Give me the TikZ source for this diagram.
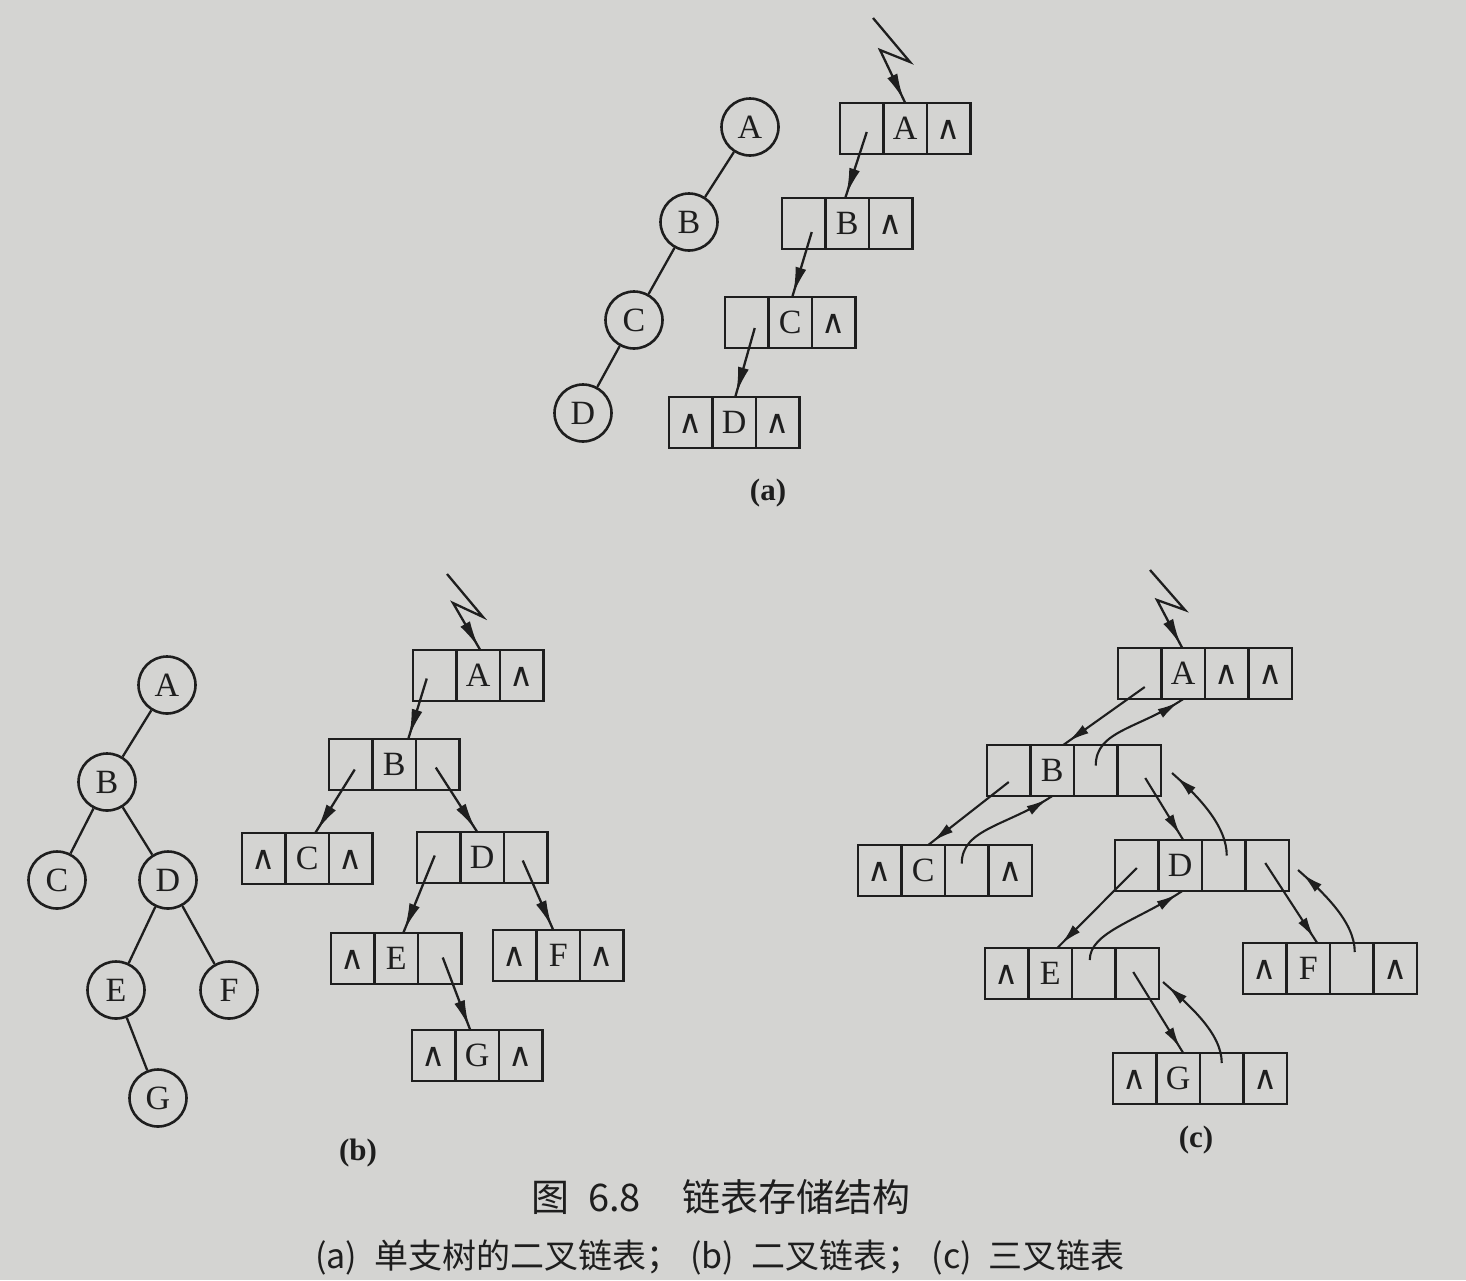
\documentclass[tikz,border=0pt]{standalone}
\usepackage{fontspec}
\usepackage{graphicx}
\setmainfont{Liberation Serif}
\newfontfamily\cjk{Noto Sans CJK SC}
\newfontfamily\symfont{DejaVu Sans}
\usetikzlibrary{arrows.meta,calc,decorations.markings}
\definecolor{ink}{RGB}{30,30,30}
\definecolor{paper}{RGB}{212,212,210}
\newcommand\NULLsym{{\symfont\fontsize{33}{33}\selectfont ∧}}
\newcommand\cellrow[3]{\foreach \cc [count=\ii] in {#3} {\node[cell, anchor=north west] (#1\ii) at ($(#2)+(43.5*\ii-43.5,0)$) {\cc};}}
\begin{document}
\begin{tikzpicture}[x=1pt,y=-1pt,
  ln/.style={draw=ink, line width=2.3pt},
  cell/.style={draw=ink, line width=2.8pt, rectangle, minimum width=43.5pt, minimum height=51pt,
    inner sep=0pt, outer sep=0pt, text height=22pt, text depth=0pt, text=ink,
    font=\fontsize{34}{34}\selectfont},
  tnode/.style={draw=ink, circle, line width=2.6pt, minimum size=57pt, inner sep=0pt, text=ink,
    text height=22pt, text depth=0pt, font=\fontsize{34}{34}\selectfont},
  ptr/.style={draw=ink, line width=2.3pt, line join=miter,
    decoration={markings, mark=at position -3pt with {\arrow[ink]{Latex[length=27pt,width=11pt]}}},
    postaction={decorate}},
  ptrc/.style={draw=ink, line width=2.1pt,
    decoration={markings, mark=at position -6pt with {\arrow[ink]{Latex[length=21pt,width=10pt]}}},
    postaction={decorate}},
  lbl/.style={text=ink, font=\bfseries\fontsize{31}{31}\selectfont},
]
\fill[paper] (0,0) rectangle (1466,1280);
\useasboundingbox (0,0) rectangle (1466,1280);

% ---------------- (a) ----------------
\node[tnode] (taA) at (750,127) {A};
\node[tnode] (taB) at (689,222) {B};
\node[tnode] (taC) at (634,320) {C};
\node[tnode] (taD) at (583,413) {D};
\draw[ln] (taA) -- (taB) (taB) -- (taC) (taC) -- (taD);

\cellrow{aA}{840,103}{\relax,A,\NULLsym}
\cellrow{aB}{782,198}{\relax,B,\NULLsym}
\cellrow{aC}{725,297}{\relax,C,\NULLsym}
\cellrow{aD}{669,397}{\NULLsym,D,\NULLsym}

\coordinate (az1) at (873,18);
\coordinate (az2) at (910,62);
\coordinate (az3) at (880,50);
\draw[ptr] (az1) -- (az2) -- (az3) -- (aA2.north);
\draw[ptr] ($(aA1.center)+(5,3.5)$) -- ($(aB2.north)+(-2,0)$);
\draw[ptr] ($(aB1.center)+(8,8.5)$) -- ($(aC2.north)+(2,0)$);
\draw[ptr] ($(aC1.center)+(8,5.5)$) -- ($(aD2.north)+(1,0)$);

\node[lbl] (capa) at (768,493) {(a)};

% ---------------- (b) ----------------
\node[tnode] (tbA) at (167,685) {A};
\node[tnode] (tbB) at (107,782) {B};
\node[tnode] (tbC) at (57,880) {C};
\node[tnode] (tbD) at (168,880) {D};
\node[tnode] (tbE) at (116,990) {E};
\node[tnode] (tbF) at (229,990) {F};
\node[tnode] (tbG) at (158,1098) {G};
\draw[ln] (tbA) -- (tbB) (tbB) -- (tbC) (tbB) -- (tbD) (tbD) -- (tbE) (tbD) -- (tbF) (tbE) -- (tbG);

\cellrow{bA}{413,650}{\relax,A,\NULLsym}
\cellrow{bB}{329,739}{\relax,B,\relax}
\cellrow{bC}{242,833}{\NULLsym,C,\NULLsym}
\cellrow{bD}{417,832}{\relax,D,\relax}
\cellrow{bE}{331,933}{\NULLsym,E,\relax}
\cellrow{bF}{493,930}{\NULLsym,F,\NULLsym}
\cellrow{bG}{412,1030}{\NULLsym,G,\NULLsym}

\coordinate (bz1) at (447,574);
\coordinate (bz2) at (483,617);
\coordinate (bz3) at (453,603);
\draw[ptr] (bz1) -- (bz2) -- (bz3) -- ($(bA2.north)+(2,0)$);
\draw[ptr] ($(bA1.center)+(-8,3)$) -- ($(bB2.north)+(14,0)$);
\draw[ptr] ($(bB1.center)+(4,5)$) -- ($(bC2.north)+(8,0)$);
\draw[ptr] ($(bB3.center)+(-2,3)$) -- ($(bD2.north)+(-5,0)$);
\draw[ptr] ($(bD1.center)+(-4,-2)$) -- ($(bE2.north)+(7,0)$);
\draw[ptr] ($(bD3.center)+(-3,3)$) -- ($(bF2.north)+(-5,0)$);
\draw[ptr] ($(bE3.center)+(3,-1)$) -- ($(bG2.north)+(-7,0)$);

\node[lbl] (capb) at (358,1153) {(b)};

% ---------------- (c) ----------------
\cellrow{cA}{1118,648}{\relax,A,\NULLsym,\NULLsym}
\cellrow{cB}{987,745}{\relax,B,\relax,\relax}
\cellrow{cC}{858,845}{\NULLsym,C,\relax,\NULLsym}
\cellrow{cD}{1115,840}{\relax,D,\relax,\relax}
\cellrow{cE}{985,948}{\NULLsym,E,\relax,\relax}
\cellrow{cF}{1243,943}{\NULLsym,F,\relax,\NULLsym}
\cellrow{cG}{1113,1053}{\NULLsym,G,\relax,\NULLsym}

\coordinate (cz1) at (1150,570);
\coordinate (cz2) at (1185,610);
\coordinate (cz3) at (1157,600);
\draw[ptr] (cz1) -- (cz2) -- (cz3) -- ($(cA2.north)+(-1,0)$);

% child pointers
\draw[ptrc] ($(cA1.center)+(5,13.5)$) -- ($(cB2.north)+(11,0)$);
\draw[ptrc] ($(cB1.center)+(0,11.5)$) -- ($(cC2.north)+(5,0)$);
\draw[ptrc] ($(cB4.center)+(6,7.5)$) -- ($(cD2.north)+(3,0)$);
\draw[ptrc] ($(cD1.center)+(0,2.5)$) -- ($(cE2.north)+(7,0)$);
\draw[ptrc] ($(cD4.center)+(-2,-2.5)$) -- ($(cF2.north)+(9,0)$);
\draw[ptrc] ($(cE4.center)+(-4,-1.5)$) -- ($(cG2.north)+(5,0)$);
% parent pointers
\draw[ptrc] ($(cB3.center)+(0,-5)$) .. controls +(0,-35) and +(-45,30) .. (cA2.south);
\draw[ptrc] ($(cC3.center)+(-5,-7)$) .. controls +(0,-35) and +(-45,30) .. (cB2.south);
\draw[ptrc] ($(cE3.center)+(-4,-13.5)$) .. controls +(0,-28) and +(-45,30) .. ($(cD2.south)+(2,0)$);
\draw[ptrc] ($(cD3.center)+(3,-10)$) .. controls +(0,-30) and +(26,23) .. ($(cB4.east)+(11,2.5)$);
\draw[ptrc] ($(cF3.center)+(3,-16.5)$) .. controls +(0,-30) and +(26,23) .. ($(cD4.east)+(9,4.5)$);
\draw[ptrc] ($(cG3.center)+(0,-15.5)$) .. controls +(0,-30) and +(26,23) .. ($(cE4.east)+(4,8.5)$);

\node[lbl] (capc) at (1196,1140) {(c)};

% ---------------- captions ----------------
\node[text=ink, font=\cjk\fontsize{38}{38}\selectfont] (title) at (721,1197)
  {图\hspace{0.5em}6.8\hspace{1.1em}链表存储结构};
\node[text=ink, font=\cjk\fontsize{34}{34}\selectfont] (subtitle) at (720,1257)
  {(a)\hspace{0.5em}单支树的二叉链表；\hspace{0.3em}(b)\hspace{0.5em}二叉链表；\hspace{0.3em}(c)\hspace{0.5em}三叉链表};
\end{tikzpicture}
\end{document}
